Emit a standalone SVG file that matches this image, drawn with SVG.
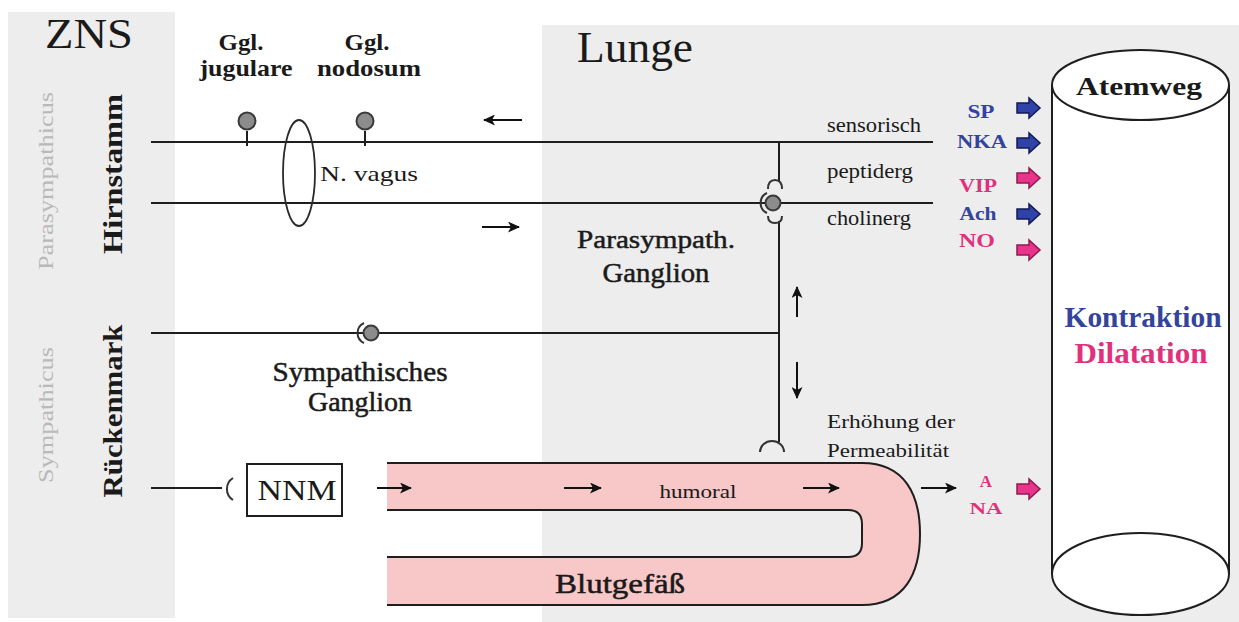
<svg xmlns="http://www.w3.org/2000/svg" width="1239" height="622" viewBox="0 0 1239 622" font-family="Liberation Serif, DejaVu Serif, serif">
<style>
text{font-family:'Liberation Serif','DejaVu Serif',serif;fill:#1a1a1a}
.b{font-weight:bold}
.sb{stroke:#1a1a1a;stroke-width:0.5}
.gray{fill:#b9b9b9}
.blue{fill:#34449c;font-weight:bold}
.pink{fill:#e0327c;font-weight:bold}
.ln{stroke:#1e1e1e;stroke-width:2;fill:none}
.arr{stroke:#111;stroke-width:2;fill:none;marker-end:url(#ah)}
.syn{stroke:#333;stroke-width:2;fill:none}
.dot{fill:#8c8c8c;stroke:#3a3a3a;stroke-width:2}
.bab{fill:#2e42a8;stroke:#141a55;stroke-width:1.5}
.bap{fill:#e8348a;stroke:#8e1a50;stroke-width:1.5}
</style>
<defs>
<marker id="ah" markerUnits="userSpaceOnUse" markerWidth="13" markerHeight="11" refX="11" refY="5.5" orient="auto">
<path d="M0,0 L12,5.5 L0,11 L3,5.5 Z" fill="#111"/>
</marker>
<path id="blk" d="M0,-5 H12 V-10 L23,0 L12,10 V5 H0 Z"/>
</defs>
<rect width="1239" height="622" fill="#fff"/>
<g id="panel-zns">
<rect x="8" y="12" width="167" height="606" fill="#ededed"/>
<text x="89" y="48" font-size="42" text-anchor="middle" textLength="88" lengthAdjust="spacingAndGlyphs">ZNS</text>
<text class="gray" transform="translate(53,181) rotate(-90)" font-size="21" text-anchor="middle" textLength="178" lengthAdjust="spacingAndGlyphs">Parasympathicus</text>
<text class="gray" transform="translate(53,415) rotate(-90)" font-size="21" text-anchor="middle" textLength="136" lengthAdjust="spacingAndGlyphs">Sympathicus</text>
<text class="b" transform="translate(122,174) rotate(-90)" font-size="28" text-anchor="middle" textLength="160" lengthAdjust="spacingAndGlyphs">Hirnstamm</text>
<text class="b" transform="translate(122,411) rotate(-90)" font-size="28" text-anchor="middle" textLength="173" lengthAdjust="spacingAndGlyphs">Rückenmark</text>
</g>
<g id="panel-lunge">
<rect x="542" y="25" width="697" height="597" fill="#ededed"/>
<text x="577" y="62" font-size="45" textLength="116" lengthAdjust="spacingAndGlyphs">Lunge</text>
</g>
<g id="vessel">
<path d="M387,463 H862 C905,463 920,495 920,534 C920,573 905,605 862,605 H387 Z M387,510 H848 Q862,510 862,524 V543 Q862,557 848,557 H387 Z" fill="#f8c7c7" fill-rule="evenodd"/>
<path class="ln" d="M387,463 H862 C905,463 920,495 920,534 C920,573 905,605 862,605 H387"/>
<path class="ln" d="M387,510 H848 Q862,510 862,524 V543 Q862,557 848,557 H387"/>
<text x="698" y="498" font-size="19" text-anchor="middle" textLength="77" lengthAdjust="spacingAndGlyphs">humoral</text>
<text class="sb" x="620" y="593" font-size="28" text-anchor="middle" textLength="130" lengthAdjust="spacingAndGlyphs">Blutgefäß</text>
</g>
<g id="connectors">
<line class="ln" x1="151" y1="142" x2="933" y2="142"/>
<line class="ln" x1="151" y1="203" x2="933" y2="203"/>
<line class="ln" x1="151" y1="333" x2="779" y2="333"/>
<line class="ln" x1="151" y1="488" x2="222" y2="488"/>
<line class="ln" x1="779" y1="142" x2="779" y2="181"/>
<line class="ln" x1="779" y1="221" x2="779" y2="442"/>
<line class="ln" x1="247" y1="131" x2="247" y2="146"/>
<line class="ln" x1="365" y1="131" x2="365" y2="146"/>
<line class="arr" x1="522" y1="120" x2="484" y2="120"/>
<line class="arr" x1="482" y1="227" x2="519" y2="227"/>
<line class="arr" x1="797" y1="317" x2="797" y2="287"/>
<line class="arr" x1="797" y1="362" x2="797" y2="398"/>
<line class="arr" x1="377" y1="488" x2="411" y2="488"/>
<line class="arr" x1="564" y1="488" x2="601" y2="488"/>
<line class="arr" x1="803" y1="488" x2="839" y2="488"/>
<line class="arr" x1="921" y1="488" x2="956" y2="488"/>
</g>
<g id="ggl-jugulare">
<circle class="dot" cx="247" cy="121" r="8.5"/>
<text class="b" x="241" y="50" font-size="23" text-anchor="middle" textLength="45" lengthAdjust="spacingAndGlyphs">Ggl.</text>
<text class="b" x="246" y="76" font-size="24" text-anchor="middle" textLength="93" lengthAdjust="spacingAndGlyphs">jugulare</text>
</g>
<g id="ggl-nodosum">
<circle class="dot" cx="365" cy="121" r="8.5"/>
<text class="b" x="367" y="50" font-size="23" text-anchor="middle" textLength="45" lengthAdjust="spacingAndGlyphs">Ggl.</text>
<text class="b" x="369" y="76" font-size="24" text-anchor="middle" textLength="104" lengthAdjust="spacingAndGlyphs">nodosum</text>
</g>
<g id="n-vagus">
<ellipse cx="299" cy="173" rx="16" ry="53" fill="none" stroke="#2a2a2a" stroke-width="1.8"/>
<text x="320" y="181" font-size="21" textLength="98" lengthAdjust="spacingAndGlyphs">N. vagus</text>
</g>
<g id="fiber-labels">
<text x="827" y="132" font-size="21" textLength="94" lengthAdjust="spacingAndGlyphs">sensorisch</text>
<text x="827" y="178" font-size="21" textLength="86" lengthAdjust="spacingAndGlyphs">peptiderg</text>
<text x="827" y="225" font-size="21" textLength="84" lengthAdjust="spacingAndGlyphs">cholinerg</text>
</g>
<g id="parasymp-ganglion">
<path class="syn" d="M767,193 A11,11 0 0,0 767,213"/>
<path class="syn" d="M768,189 Q768,180 775,180 Q782,180 782,189"/>
<path class="syn" d="M768,216 Q768,223 775,223 Q782,223 782,216"/>
<circle class="dot" cx="773" cy="203" r="7.5"/>
<text class="sb" x="656" y="248" font-size="26" text-anchor="middle" textLength="158" lengthAdjust="spacingAndGlyphs">Parasympath.</text>
<text class="sb" x="656" y="282" font-size="27" text-anchor="middle" textLength="107" lengthAdjust="spacingAndGlyphs">Ganglion</text>
</g>
<g id="symp-ganglion">
<path class="syn" d="M364,323 A11,11 0 0,0 364,343"/>
<circle class="dot" cx="371" cy="333" r="7.5"/>
<text class="sb" x="360" y="381" font-size="27" text-anchor="middle" textLength="175" lengthAdjust="spacingAndGlyphs">Sympathisches</text>
<text class="sb" x="360" y="411" font-size="27" text-anchor="middle" textLength="104" lengthAdjust="spacingAndGlyphs">Ganglion</text>
</g>
<g id="permeability">
<path class="syn" d="M760,452 A12,11 0 0,1 784,452"/>
<text x="827" y="428" font-size="19" textLength="128" lengthAdjust="spacingAndGlyphs">Erhöhung der</text>
<text x="827" y="457" font-size="19" textLength="122" lengthAdjust="spacingAndGlyphs">Permeabilität</text>
</g>
<g id="nnm">
<path class="syn" d="M233,478 A13,13 0 0,0 233,500"/>
<rect x="247" y="464" width="95" height="52" fill="#fff" stroke="#1e1e1e" stroke-width="2"/>
<text x="297" y="500" font-size="30" text-anchor="middle" textLength="79" lengthAdjust="spacingAndGlyphs">NNM</text>
</g>
<g id="transmitters">
<text class="blue" x="981" y="118" font-size="18" text-anchor="middle" textLength="27" lengthAdjust="spacingAndGlyphs">SP</text>
<use href="#blk" class="bab" x="1017" y="108"/>
<text class="blue" x="982" y="148" font-size="18" text-anchor="middle" textLength="50" lengthAdjust="spacingAndGlyphs">NKA</text>
<use href="#blk" class="bab" x="1017" y="143"/>
<text class="pink" x="978" y="192" font-size="18" text-anchor="middle" textLength="38" lengthAdjust="spacingAndGlyphs">VIP</text>
<use href="#blk" class="bap" x="1017" y="178"/>
<text class="blue" x="978" y="220" font-size="18" text-anchor="middle" textLength="37" lengthAdjust="spacingAndGlyphs">Ach</text>
<use href="#blk" class="bab" x="1017" y="214"/>
<text class="pink" x="977" y="247" font-size="18" text-anchor="middle" textLength="36" lengthAdjust="spacingAndGlyphs">NO</text>
<use href="#blk" class="bap" x="1017" y="250"/>
<text class="pink" x="986" y="487" font-size="17" text-anchor="middle">A</text>
<text class="pink" x="986" y="514" font-size="17" text-anchor="middle" textLength="33" lengthAdjust="spacingAndGlyphs">NA</text>
<use href="#blk" class="bap" x="1017" y="489"/>
</g>
<g id="atemweg">
<rect x="1052" y="85" width="177" height="489" fill="#fff"/>
<line class="ln" x1="1052" y1="85" x2="1052" y2="574"/>
<line class="ln" x1="1229" y1="85" x2="1229" y2="574"/>
<ellipse cx="1140.5" cy="85" rx="88.5" ry="35" fill="#fff" stroke="#1e1e1e" stroke-width="2"/>
<ellipse cx="1140.5" cy="574" rx="88.5" ry="41" fill="#fff" stroke="#1e1e1e" stroke-width="2"/>
<text class="b" x="1139" y="95" font-size="26" text-anchor="middle" textLength="126" lengthAdjust="spacingAndGlyphs">Atemweg</text>
<text class="blue" x="1143" y="327" font-size="29" text-anchor="middle" textLength="157" lengthAdjust="spacingAndGlyphs">Kontraktion</text>
<text class="pink" x="1141" y="363" font-size="29" text-anchor="middle" textLength="133" lengthAdjust="spacingAndGlyphs">Dilatation</text>
</g>
</svg>
